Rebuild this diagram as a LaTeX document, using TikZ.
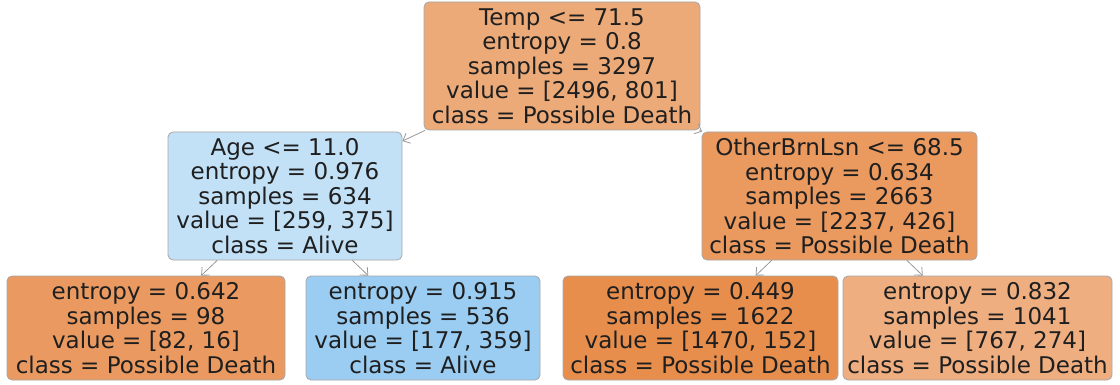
\documentclass[tikz,border=0pt]{standalone}
\usepackage{fontspec}
\setmainfont{DejaVu Sans}
\usetikzlibrary{arrows.meta}
\definecolor{croot}{RGB}{237,170,121}
\definecolor{cage}{RGB}{194,225,247}
\definecolor{cother}{RGB}{234,153,95}
\definecolor{cla}{RGB}{234,154,96}
\definecolor{clb}{RGB}{155,205,242}
\definecolor{clc}{RGB}{232,142,77}
\definecolor{cld}{RGB}{238,174,128}
\begin{document}
\begin{tikzpicture}[x=1pt,y=-1pt,
  tnode/.style={draw=black!35, line width=0.8pt, rounded corners=5pt, inner sep=0pt,
    align=center, font=\fontsize{23}{24.5}\selectfont, text=black!88},
  inner/.style={tnode, minimum height=128pt},
  leaf/.style={tnode, minimum height=104pt},
  edge/.style={draw=black!40, line width=0.8pt, -{Straight Barb[length=6pt,width=11pt]}}]
\useasboundingbox (0,0) rectangle (1120,385);
\node[inner, fill=croot, minimum width=276pt] (root) at (562,66)
  {Temp <= 71.5\\entropy = 0.8\\samples = 3297\\value = [2496, 801]\\class = Possible Death};
\node[inner, fill=cage, minimum width=234pt] (age) at (285,196)
  {Age <= 11.0\\entropy = 0.976\\samples = 634\\value = [259, 375]\\class = Alive};
\node[inner, fill=cother, minimum width=275pt] (other) at (839.5,196)
  {OtherBrnLsn <= 68.5\\entropy = 0.634\\samples = 2663\\value = [2237, 426]\\class = Possible Death};
\node[leaf, fill=cla, minimum width=278pt] (l1) at (146,328)
  {entropy = 0.642\\samples = 98\\value = [82, 16]\\class = Possible Death};
\node[leaf, fill=clb, minimum width=234pt] (l2) at (423,328)
  {entropy = 0.915\\samples = 536\\value = [177, 359]\\class = Alive};
\node[leaf, fill=clc, minimum width=275pt] (l3) at (700.5,328)
  {entropy = 0.449\\samples = 1622\\value = [1470, 152]\\class = Possible Death};
\node[leaf, fill=cld, minimum width=269pt] (l4) at (977.5,328)
  {entropy = 0.832\\samples = 1041\\value = [767, 274]\\class = Possible Death};
\draw[edge] (root) -- (age);
\draw[edge] (root) -- (other);
\draw[edge] (age) -- (l1);
\draw[edge] (age) -- (l2);
\draw[edge] (other) -- (l3);
\draw[edge] (other) -- (l4);
\end{tikzpicture}
\end{document}
